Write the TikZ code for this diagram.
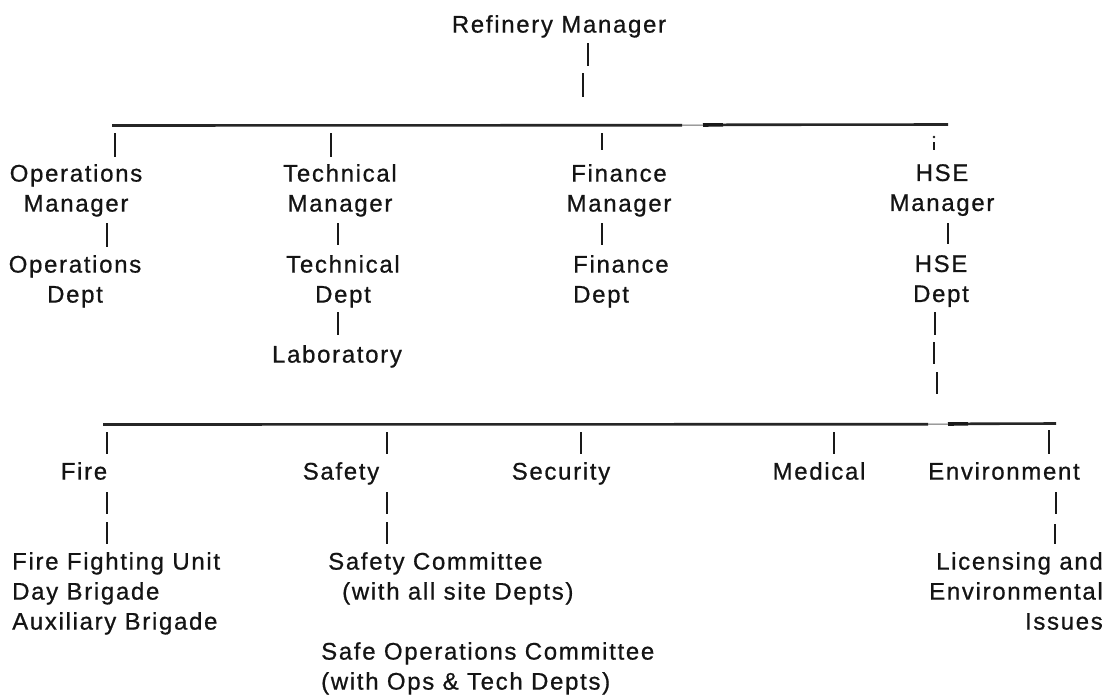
\documentclass[tikz,border=0pt]{standalone}
\usepackage{fontspec}
\setmainfont{Liberation Sans}[LetterSpace=7,FakeBold=0.7]
\begin{document}
\begin{tikzpicture}[x=1pt,y=-1pt,
  lbl/.style={font=\fontsize{24}{30}\selectfont, inner sep=0pt, text=black!92},
  conn/.style={line width=2.1pt, draw=black!90},
  barline/.style={line width=2.6pt, draw=black!85},
  thinbar/.style={line width=1pt, draw=black!60},
  thickbar/.style={line width=3.6pt, draw=black!90}]
\useasboundingbox (0,0) rectangle (1106,694);
\fill[white] (0,0) rectangle (1106,694);

% ---------- level 1 ----------
\node[lbl, anchor=north] (rm) at (559,15) {Refinery Manager};

% ---------- level 2 ----------
\node[lbl, anchor=north, align=center] (ops)  at (76,164)  {Operations\\Manager};
\node[lbl, anchor=north, align=center] (opsd) at (75,255)  {Operations\\Dept};
\node[lbl, anchor=north, align=center] (tech) at (340,164) {Technical\\Manager};
\node[lbl, anchor=north, align=center] (techd) at (343,255) {Technical\\Dept};
\node[lbl, anchor=north] (lab) at (337,345) {Laboratory};
\node[lbl, anchor=north, align=center] (fin)  at (619,164) {Finance\\Manager};
\node[lbl, anchor=north west, align=left] (find) at (573,255) {Finance\\Dept};
\node[lbl, anchor=north, align=center] (hse)  at (942,164) {HSE\\Manager};
\node[lbl, anchor=north, align=center] (hsed) at (941,255) {HSE\\Dept};

% ---------- level 3 ----------
\node[lbl, anchor=north] (fire)     at (84,462)   {Fire};
\node[lbl, anchor=north] (safety)   at (341,462)  {Safety};
\node[lbl, anchor=north] (security) at (561,462)  {Security};
\node[lbl, anchor=north] (medical)  at (819,462)  {Medical};
\node[lbl, anchor=north] (env)      at (1004,462) {Environment};

% ---------- level 4 ----------
\node[lbl, anchor=north west, align=left] (ffu) at (12,552)
  {Fire Fighting Unit\\Day Brigade\\Auxiliary Brigade};
\node[lbl, anchor=north west, align=left] (sc) at (328,552)
  {Safety Committee\\\hspace*{14pt}(with all site Depts)};
\node[lbl, anchor=north west, align=left] (soc) at (321,642)
  {Safe Operations Committee\\(with Ops \& Tech Depts)};
\node[lbl, anchor=north east, align=right] (lic) at (1103,552)
  {Licensing and\\Environmental\\Issues};

% ---------- top bar ----------
\coordinate (tbL) at (112,125.5);
\coordinate (tbA) at (682,125.2);
\coordinate (tbB) at (703,125);
\coordinate (tbC) at (723,124.8);
\coordinate (tbR) at (948,124.5);
\draw[barline] (tbL) -- (tbA);
\draw[thinbar] (tbA) -- (tbB);
\draw[thickbar] (tbB) -- (tbC);
\draw[barline] (tbC) -- (tbR);

% refinery manager down to bar (broken)
\draw[conn] (588,43) -- (588,66);
\draw[conn] (583,73) -- (583,97);

% ticks to level 2
\draw[conn] (115,133) -- (115,157);
\draw[conn] (331,133) -- (331,157);
\draw[conn] (602,133) -- (602,150);
\draw[conn] (934,142) -- (934,150);
\fill[black!90] (934,137) circle (1.3);

% level 2 internal
\draw[conn] (107,223) -- (107,247);
\draw[conn] (338,223) -- (338,245);
\draw[conn] (338,312) -- (338,335);
\draw[conn] (602,223) -- (602,245);
\draw[conn] (948,223) -- (948,244);
\draw[conn] (935,312) -- (935,335);
\draw[conn] (934,342) -- (934,364);
\draw[conn] (937,372) -- (937,394);

% ---------- bottom bar ----------
\coordinate (bbL) at (103,424.5);
\coordinate (bbA) at (928,424.2);
\coordinate (bbB) at (948,424);
\coordinate (bbC) at (968,423.8);
\coordinate (bbR) at (1056,423.5);
\draw[barline] (bbL) -- (bbA);
\draw[thinbar] (bbA) -- (bbB);
\draw[thickbar] (bbB) -- (bbC);
\draw[barline] (bbC) -- (bbR);

% ticks to level 3
\draw[conn] (107,432) -- (107,454);
\draw[conn] (387,432) -- (387,454);
\draw[conn] (581,432) -- (581,454);
\draw[conn] (834,432) -- (834,454);
\draw[conn] (1049,430) -- (1049,454);

% level 3 to level 4
\draw[conn] (107,492) -- (107,514);
\draw[conn] (107,522) -- (107,544);
\draw[conn] (387,492) -- (387,514);
\draw[conn] (387,522) -- (387,544);
\draw[conn] (1056,492) -- (1056,514);
\draw[conn] (1055,524) -- (1055,544);
\end{tikzpicture}
\end{document}
